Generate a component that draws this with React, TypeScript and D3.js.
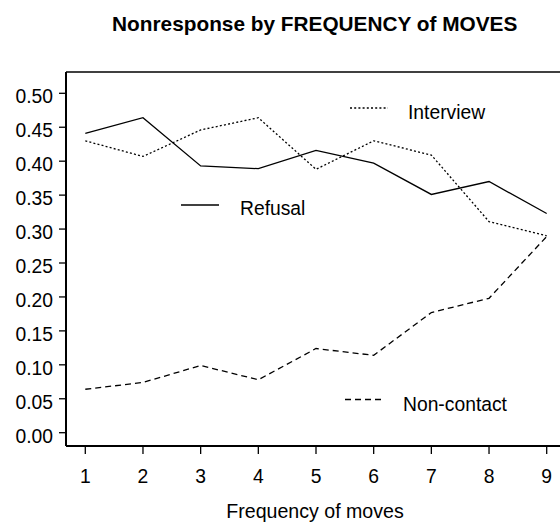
import React from "react";
import * as d3 from "d3";

const moves = [1, 2, 3, 4, 5, 6, 7, 8, 9];
const refusal = [0.441, 0.464, 0.393, 0.389, 0.416, 0.397, 0.351, 0.37, 0.323];
const interview = [0.43, 0.407, 0.446, 0.464, 0.388, 0.43, 0.409, 0.311, 0.29];
const nonContact = [0.064, 0.074, 0.099, 0.078, 0.124, 0.114, 0.177, 0.198, 0.289];
const yTicks = [0, 0.05, 0.1, 0.15, 0.2, 0.25, 0.3, 0.35, 0.4, 0.45, 0.5];
const title = "Nonresponse by FREQUENCY of MOVES";
const xLabel = "Frequency of moves";

const W = 560;
const H = 525;
const FONT = "'Liberation Sans', Arial, sans-serif";

export default function App() {
  const x = d3.scaleLinear().domain([1, 9]).range([85.3, 546.7]);
  const y = d3.scaleLinear().domain([0, 0.5]).range([432.7, 93.3]);
  const left = 66;
  const top = 72;
  const bottom = 446;

  const line = d3
    .line<number>()
    .x((_, i) => x(moves[i]))
    .y((d) => y(d));

  const series = [
    { name: "Refusal", values: refusal, dash: "none", lx: [181, 219], ly: 205, tx: 240, ty: 215 },
    { name: "Interview", values: interview, dash: "2,2.2", lx: [350, 388], ly: 108, tx: 408, ty: 119 },
    { name: "Non-contact", values: nonContact, dash: "6,4", lx: [345, 382], ly: 399.5, tx: 403, ty: 411 },
  ];

  return (
    <svg
      width={W}
      height={H}
      style={{ position: "absolute", left: 0, top: 0, background: "#fff" }}
      fontFamily={FONT}
    >
      <rect width={W} height={H} fill="#fff" />
      <text x={314.7} y={31} textAnchor="middle" fontSize={20.8} fontWeight="bold" fill="#000">
        {title}
      </text>
      {/* frame */}
      <line x1={left} x2={W} y1={top} y2={top} stroke="#000" strokeWidth={1.5} />
      <line x1={left} x2={W} y1={bottom} y2={bottom} stroke="#000" strokeWidth={2} />
      <line x1={left} x2={left} y1={top} y2={bottom} stroke="#000" strokeWidth={2} />
      {/* y ticks */}
      {yTicks.map((t) => (
        <g key={t}>
          <line x1={59} x2={left} y1={y(t)} y2={y(t)} stroke="#000" strokeWidth={1.3} />
          <text x={53} y={y(t) + 9.8} textAnchor="end" fontSize={19.3} fill="#000">
            {d3.format(".2f")(t)}
          </text>
        </g>
      ))}
      {/* x ticks */}
      {moves.map((m) => (
        <g key={m}>
          <line x1={x(m)} x2={x(m)} y1={bottom} y2={bottom + 8} stroke="#000" strokeWidth={1.3} />
          <text x={x(m)} y={483} textAnchor="middle" fontSize={19.3} fill="#000">
            {m}
          </text>
        </g>
      ))}
      <text x={315} y={518} textAnchor="middle" fontSize={19.6} fill="#000">
        {xLabel}
      </text>
      {series.map((s) => (
        <g key={s.name}>
          <path d={line(s.values) || ""} fill="none" stroke="#000" strokeWidth={1.3} strokeDasharray={s.dash} />
          <line x1={s.lx[0]} x2={s.lx[1]} y1={s.ly} y2={s.ly} stroke="#000" strokeWidth={1.3} strokeDasharray={s.dash} />
          <text x={s.tx} y={s.ty} fontSize={19.3} fill="#000">
            {s.name}
          </text>
        </g>
      ))}
    </svg>
  );
}
